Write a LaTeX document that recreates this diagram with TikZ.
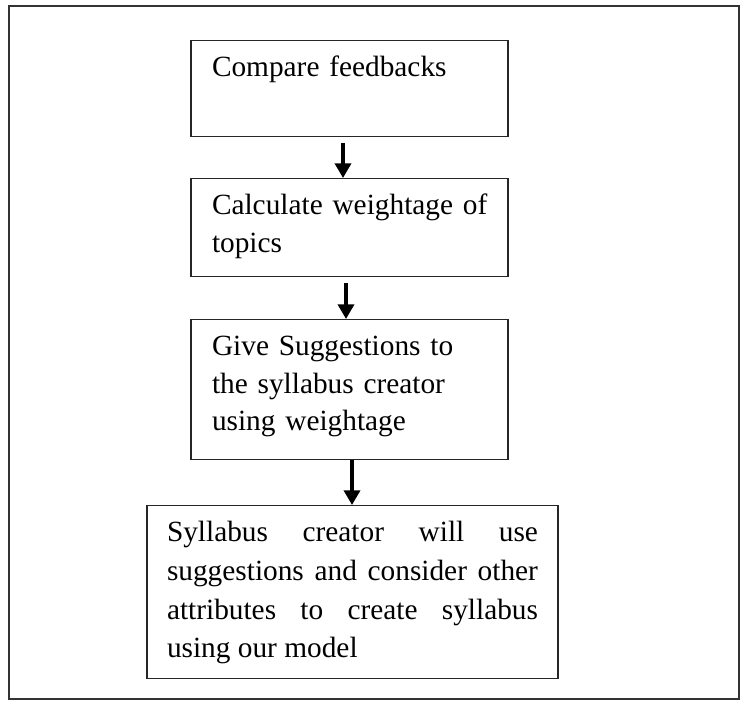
\documentclass[tikz,border=0pt]{standalone}
\usepackage{fontspec}
\setmainfont{Liberation Serif}
\usetikzlibrary{arrows.meta}
\tolerance=10000
\hyphenpenalty=10000
\exhyphenpenalty=10000
\begin{document}
\begin{tikzpicture}[x=0.75pt,y=-0.75pt,>={Triangle[width=12pt,length=11pt]},
        font=\fontsize{22}{28}\selectfont,
        stepbox/.style={draw=black!85,line width=1.1pt,anchor=north,inner xsep=15.75pt,
            inner ysep=0pt,text width=206.25pt,align=left,text height=27pt},
        flow/.style={->,line width=2.6pt}]
                \def\W{741} \def\H{702}
                \useasboundingbox (0,0) rectangle (\W,\H);
                \draw[black!80,line width=1.5pt] (9,6) rectangle (739,699);
                %===========================================
                \node[stepbox,text depth=45pt] (b1) at (349.5,40) {Compare feedbacks};
                \node[stepbox,text depth=46.5pt] (b2) at (349.5,178) {Calculate~weightage~of\\topics};
                \node[stepbox,text depth=78pt] (b3) at (349.5,319) {Give Suggestions to\\the syllabus creator\\using weightage};
                \node[stepbox,text depth=102.75pt,text width=278.25pt,inner xsep=15pt,align=justify,
                    font=\fontsize{22}{29}\selectfont] (b4) at (352.5,505)
                    {Syllabus creator will use suggestions and consider other attributes to create syllabus using our model};
                %===========================================
                \foreach \a/\b/\dx/\gap in {b1/b2/-6.5/4.5pt, b2/b3/-3.5/4.5pt, b3/b4/2.5/0pt}
                    \draw[flow,shorten <=\gap] ([xshift=\dx*0.75pt]\a.south) -- ([xshift=\dx*0.75pt]\a.south |- \b.north);
            \end{tikzpicture}
\end{document}
